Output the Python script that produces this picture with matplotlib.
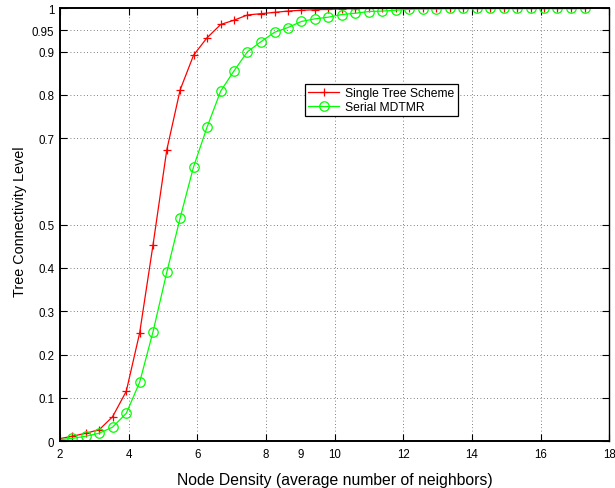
import matplotlib
matplotlib.use("Agg")
import matplotlib.pyplot as plt

plt.rcParams['font.family'] = ['Liberation Sans', 'DejaVu Sans']

# Average number of neighbors at each simulated density
density = [1.96, 2.36, 2.75, 3.14, 3.53, 3.93, 4.32, 4.71, 5.11, 5.50,
           5.89, 6.28, 6.68, 7.07, 7.46, 7.85, 8.25, 8.64, 9.03, 9.42,
           9.82, 10.21, 10.60, 11.00, 11.39, 11.78, 12.17, 12.57, 12.96, 13.35,
           13.74, 14.14, 14.53, 14.92, 15.32, 15.71, 16.10, 16.49, 16.89, 17.28]

single_tree = [0.005, 0.011, 0.018, 0.026, 0.056, 0.115, 0.250, 0.454, 0.673, 0.812,
               0.892, 0.932, 0.963, 0.973, 0.985, 0.988, 0.991, 0.994, 0.996, 0.997,
               0.998, 0.999, 0.9995, 1.0, 1.0, 1.0, 1.0, 1.0, 1.0, 1.0,
               1.0, 1.0, 1.0, 1.0, 1.0, 1.0, 1.0, 1.0, 1.0, 1.0]

serial_mdtmr = [0.003, 0.006, 0.011, 0.018, 0.032, 0.064, 0.136, 0.253, 0.390, 0.516,
                0.634, 0.725, 0.809, 0.856, 0.900, 0.923, 0.945, 0.956, 0.970, 0.976,
                0.980, 0.986, 0.989, 0.993, 0.994, 0.996, 0.998, 0.999, 0.999, 1.0,
                1.0, 1.0, 1.0, 1.0, 1.0, 1.0, 1.0, 1.0, 1.0, 1.0]

x_ticks = [2, 4, 6, 8, 10, 12, 14, 16, 18]
x_extra_ticks = [9]
y_ticks = [0, 0.1, 0.2, 0.3, 0.4, 0.5, 0.7, 0.8, 0.9, 0.95, 1]
y_tick_labels = ['0', '0.1', '0.2', '0.3', '0.4', '0.5', '0.7', '0.8', '0.9', '0.95', '1']

fig = plt.figure(figsize=(6.15, 4.89), dpi=100)
ax = fig.add_axes([0.0976, 0.0961, 0.8931, 0.8845])

ax.plot(density, single_tree, color=(1, 0, 0), lw=0.9, marker='+', ms=6,
        mew=0.9, markevery=slice(1, None), label='Single Tree Scheme')
ax.plot(density, serial_mdtmr, color=(0, 1, 0), lw=0.9, marker='o', ms=6.8,
        mfc='none', mew=0.9, markevery=slice(1, None), label='Serial MDTMR')

ax.set_xlim(2, 18)
ax.set_ylim(0, 1)
ax.set_xticks(x_ticks)
ax.set_xticks(x_extra_ticks, minor=True)
ax.set_xticklabels([str(v) for v in x_extra_ticks], minor=True)
ax.set_yticks(y_ticks)
ax.set_yticklabels(y_tick_labels)

ax.grid(True, which='major', linestyle=(0, (1, 3)), color='#555555', lw=0.6)
ax.tick_params(direction='in', length=5, width=0.8, top=True, right=True,
               labelsize=8.3, colors='black')
ax.tick_params(axis='x', which='both', pad=5, labelsize=8.3)
ax.tick_params(axis='x', which='minor', length=0, top=False)
ax.tick_params(axis='y', pad=4)
for s in ax.spines.values():
    s.set_linewidth(1.0)
ax.spines['left'].set_linewidth(1.4)
ax.spines['bottom'].set_linewidth(1.4)
ax.spines['top'].set_linewidth(1.4)

ax.set_xlabel('Node Density (average number of neighbors)', fontsize=11.3, labelpad=9)
ax.set_ylabel('Tree Connectivity Level', fontsize=10.4)
ax.yaxis.set_label_coords(-0.061, 0.509)

leg = ax.legend(loc='upper left', bbox_to_anchor=(0.446, 0.825), borderaxespad=0,
                fancybox=False, framealpha=1, edgecolor='black', fontsize=8.7,
                handlelength=2.6, borderpad=0.25, labelspacing=0.15, handletextpad=0.5)
leg.get_frame().set_linewidth(0.9)

fig.savefig('out.png', dpi=100)
